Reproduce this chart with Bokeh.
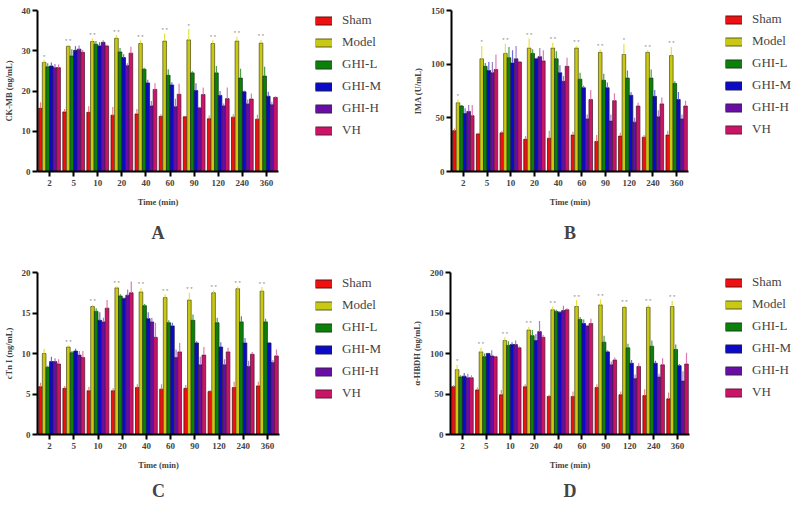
from bokeh.plotting import figure
from bokeh.layouts import column, row
from bokeh.models import (ColumnDataSource, FactorRange, Range1d, Legend, LegendItem,
                          Title, FixedTicker)
from bokeh.transform import dodge
from bokeh.embed import file_html
from bokeh.resources import INLINE

times = ["2", "5", "10", "20", "40", "60", "90", "120", "240", "360"]
groups = ["Sham", "Model", "GHI-L", "GHI-M", "GHI-H", "VH"]

# Panel A: CK-MB (ng/mL), mean per group then SD per group
ckmb_mean = [
    [15.7, 14.8, 14.7, 14.0, 14.3, 13.7, 13.6, 13.1, 13.5, 13.0],
    [27.1, 31.1, 32.3, 33.1, 31.8, 32.4, 32.7, 31.8, 32.4, 31.9],
    [26.0, 28.7, 31.6, 29.7, 25.4, 23.9, 24.5, 24.5, 23.2, 23.7],
    [26.2, 30.1, 31.2, 28.3, 22.0, 21.5, 20.1, 18.9, 19.8, 18.7],
    [25.8, 30.4, 32.1, 26.3, 16.3, 16.1, 15.8, 16.3, 16.8, 16.6],
    [25.8, 29.6, 31.2, 29.4, 20.4, 19.2, 19.1, 18.1, 18.0, 18.4],
]
ckmb_sd = [
    [1.5, 0.7, 1.5, 2.0, 1.2, 0.5, 0.1, 0.8, 0.7, 1.1],
    [0.6, 0.4, 0.8, 0.8, 0.8, 1.9, 2.7, 0.8, 1.1, 0.8],
    [0.9, 1.7, 0.8, 1.0, 0.4, 1.5, 0.4, 1.7, 2.3, 2.3],
    [0.9, 1.1, 0.9, 0.8, 0.8, 0.7, 1.8, 1.1, 0.3, 1.1],
    [0.9, 0.9, 0.5, 0.6, 1.2, 2.0, 0.3, 0.6, 1.1, 0.7],
    [0.8, 0.6, 0.3, 1.6, 1.5, 2.6, 1.8, 2.8, 1.4, 0.3],
]
ckmb_stars = ["*", "* *", "* *", "* *", "* *", "* *", "*", "* *", "* *", "* *"]

# Panel B: IMA (U/mL)
ima_mean = [
    [38, 35, 36, 30, 31, 34, 28, 33, 32, 34],
    [64, 105, 110, 115, 115, 115, 111, 109, 111, 108],
    [61, 98, 106, 110, 105, 86, 85, 87, 87, 82],
    [54, 94, 101, 105, 92, 78, 78, 71, 70, 67],
    [56, 92, 105, 107, 84, 49, 47, 46, 51, 49],
    [52, 95, 102, 103, 98, 67, 66, 61, 63, 61],
]
ima_sd = [
    [2, 1, 2, 3, 7, 3, 6, 3, 2, 4],
    [3, 12, 9, 9, 5, 2, 3, 10, 2, 8],
    [1, 3, 10, 4, 7, 6, 6, 7, 8, 2],
    [5, 8, 12, 1, 7, 2, 5, 3, 6, 7],
    [6, 10, 12, 8, 5, 4, 6, 4, 6, 4],
    [10, 14, 1, 10, 8, 9, 7, 3, 6, 5],
]
ima_stars = ["*", "*", "* *", "* *", "* *", "* *", "* *", "*", "* *", "* *"]

# Panel C: cTn I (ng/mL)
ctni_mean = [
    [5.9, 5.7, 5.4, 5.4, 5.8, 5.6, 5.7, 5.3, 5.8, 6.0],
    [10.0, 10.8, 15.8, 18.1, 17.6, 16.9, 16.6, 17.5, 18.0, 17.7],
    [8.3, 10.1, 15.2, 17.1, 15.9, 13.8, 14.1, 13.8, 13.9, 13.9],
    [9.0, 10.3, 14.1, 16.8, 14.3, 13.4, 11.3, 10.8, 11.3, 11.3],
    [9.0, 9.8, 13.9, 17.2, 13.9, 9.5, 8.6, 8.6, 8.4, 8.9],
    [8.7, 9.5, 15.6, 17.5, 12.0, 10.2, 9.8, 10.2, 9.9, 9.7],
]
ctni_sd = [
    [0.5, 0.3, 0.5, 0.3, 0.4, 0.6, 0.4, 0.2, 0.7, 0.5],
    [0.6, 0.2, 0.2, 0.2, 0.5, 0.4, 0.9, 0.3, 0.3, 0.5],
    [0.2, 0.2, 0.4, 0.2, 0.2, 0.3, 0.7, 0.6, 0.7, 0.4],
    [0.6, 0.3, 1.0, 0.1, 0.8, 0.4, 0.2, 0.6, 0.6, 0.1],
    [0.4, 0.5, 0.5, 0.7, 0.5, 1.0, 1.0, 0.7, 0.7, 0.3],
    [0.6, 0.8, 1.0, 1.4, 1.8, 1.1, 1.0, 0.5, 0.3, 0.8],
]
ctni_stars = ["", "* *", "* *", "* *", "* *", "* *", "* *", "* *", "* *", "* *"]

# Panel D: alpha-HBDH (ng/mL)
hbdh_mean = [
    [59, 55, 49, 59, 47, 47, 58, 49, 48, 44],
    [80, 102, 116, 129, 154, 158, 160, 157, 157, 158],
    [71, 96, 110, 122, 152, 142, 114, 107, 109, 105],
    [72, 100, 111, 116, 151, 137, 102, 88, 88, 85],
    [70, 97, 111, 127, 153, 134, 86, 69, 71, 66],
    [70, 96, 107, 120, 154, 137, 92, 84, 86, 87],
]
hbdh_sd = [
    [2, 3, 6, 3, 2, 6, 4, 4, 8, 8],
    [6, 5, 4, 4, 4, 8, 7, 2, 3, 7],
    [2, 4, 5, 7, 2, 3, 8, 5, 7, 6],
    [4, 1, 3, 8, 1, 5, 2, 4, 3, 2],
    [5, 7, 5, 13, 6, 1, 4, 5, 4, 12],
    [3, 1, 2, 3, 2, 6, 3, 4, 8, 14],
]
hbdh_stars = ["*", "* *", "* *", "* *", "* *", "* *", "* *", "* *", "* *", "* *"]

fill_colors = ["#f01010", "#c9c913", "#0a820a", "#0a0ac8", "#6a0ca6", "#cc1466"]
edge_colors = ["#5a1010", "#5c5c20", "#1c3c1c", "#1c1c50", "#34204a", "#5a1c38"]
err_colors = ["#f08080", "#e4e43c", "#46a046", "#6a6ae6", "#a47cd0", "#e27aae"]

SERIF = "Liberation Serif"
BAR_W = 0.15
OFFSETS = [-0.375, -0.225, -0.075, 0.075, 0.225, 0.375]


def make_panel(means, sds, stars, ylabel, ymax, ticks, letter, width, height,
               b_left, b_top, b_bottom, letter_offset, letter_standoff):
    data = {"t": times, "stars": stars}
    for i, g in enumerate(groups):
        data["v%d" % i] = means[i]
        data["hi%d" % i] = [m + s for m, s in zip(means[i], sds[i])]
    src = ColumnDataSource(data)

    p = figure(x_range=FactorRange(*times), y_range=Range1d(0, ymax),
               width=width, height=height,
               min_border_left=b_left, min_border_right=4,
               min_border_top=b_top, min_border_bottom=b_bottom,
               output_backend="svg", toolbar_location=None, tools="")
    p.outline_line_color = None
    p.xgrid.grid_line_color = None
    p.ygrid.grid_line_color = None

    for i, g in enumerate(groups):
        xs = dodge("t", OFFSETS[i], range=p.x_range)
        p.vbar(x=xs, top="v%d" % i, width=BAR_W, source=src,
               fill_color=fill_colors[i], line_color=edge_colors[i], line_width=0.8)
        p.segment(x0=xs, y0="v%d" % i, x1=xs, y1="hi%d" % i, source=src,
                  line_color=err_colors[i], line_width=1.2)

    p.text(x=dodge("t", OFFSETS[1], range=p.x_range), y="hi1", text="stars", source=src,
           text_font_size="6px", text_color="#8a8a8a", text_align="center",
           text_baseline="bottom", y_offset=-0.5)

    for ax in (p.xaxis, p.yaxis):
        ax.axis_line_width = 2
        ax.axis_line_color = "black"
        ax.major_tick_in = 0
        ax.major_tick_out = 5
        ax.major_tick_line_width = 2
        ax.minor_tick_line_color = None
        ax.major_label_text_font = SERIF
        ax.major_label_text_font_style = "bold"
        ax.major_label_text_font_size = "9px"
        ax.axis_label_text_font = SERIF
        ax.axis_label_text_font_style = "bold"
        ax.axis_label_text_font_size = "8.5px"
    p.xaxis.major_label_standoff = 3
    p.xaxis.axis_label = "Time (min)"
    p.xaxis.axis_label_standoff = 8
    p.yaxis.axis_label = ylabel
    p.yaxis.major_label_standoff = 2
    p.yaxis.axis_label_standoff = 5
    p.yaxis.ticker = FixedTicker(ticks=ticks)

    p.add_layout(Title(text=letter, align="center", offset=letter_offset,
                       standoff=letter_standoff,
                       text_font=SERIF, text_font_style="bold",
                       text_font_size="18px"), "below")
    return p


def make_legend(width, height, loc):
    # frame of this figure is aligned with the neighbouring plot's frame
    q = figure(width=width, height=height, x_range=Range1d(0, 1), y_range=Range1d(0, 1),
               x_axis_type=None, y_axis_type=None, min_border=0,
               output_backend="svg", toolbar_location=None, tools="")
    q.outline_line_color = None
    q.xgrid.grid_line_color = None
    q.ygrid.grid_line_color = None
    items = []
    for i, g in enumerate(groups):
        outer = q.line(x=[0, 1], y=[-5, -5], line_color=edge_colors[i], line_width=9)
        inner = q.line(x=[0, 1], y=[-5, -5], line_color=fill_colors[i], line_width=7)
        items.append(LegendItem(label=g, renderers=[outer, inner]))
    legend = Legend(items=items, location=loc, glyph_width=17, glyph_height=17,
                    label_height=17, spacing=5, padding=0, margin=0, label_standoff=10,
                    border_line_color=None, background_fill_alpha=0,
                    label_text_font=SERIF, label_text_font_size="13px")
    q.add_layout(legend)
    return q


pA = make_panel(ckmb_mean, ckmb_sd, ckmb_stars, "CK-MB (ng/mL)", 40, [0, 10, 20, 30, 40], "A",
                282, 254, 37, 10, 83, 22, 22)
lA = make_legend(118, 254, (33, 32.5))
pB = make_panel(ima_mean, ima_sd, ima_stars, "IMA (U/mL)", 150, [0, 50, 100, 150], "B",
                292, 254, 51, 10, 83, 15, 22)
lB = make_legend(105, 254, (33, 33.5))
pC = make_panel(ctni_mean, ctni_sd, ctni_stars, "cTn I (ng/mL)", 20, [0, 5, 10, 15, 20], "C",
                283, 254, 37, 18, 74, 22, 13)
lC = make_legend(117, 254, (32, 32.5))
pD = make_panel(hbdh_mean, hbdh_sd, hbdh_stars, "α-HBDH (ng/mL)", 200, [0, 50, 100, 150, 200], "D",
                293, 254, 50, 18, 74, 15, 13)
lD = make_legend(104, 254, (32, 33.5))

layout = column(row(pA, lA, pB, lB), row(pC, lC, pD, lD))
open("out.html", "w").write(file_html(layout, INLINE))
